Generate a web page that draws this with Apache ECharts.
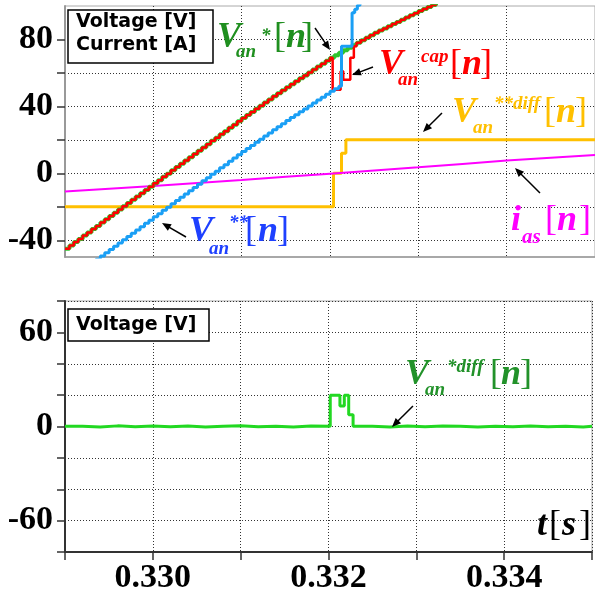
<!DOCTYPE html>
<html><head><meta charset="utf-8">
<script src="https://cdn.jsdelivr.net/npm/echarts@6/dist/echarts.min.js"></script>
<style>html,body{margin:0;padding:0;background:#fff}#c{width:595px;height:596px}</style>
</head><body><div id="c"></div>
<script>
// ---- data ----
const sampleStart = 0.329;      // s, first sample of the staircase signals
const samplePeriod = 0.00005;   // s, sample spacing
// V_an*[n] (reference voltage), samples from 0.329 s
const vanStar = [
  -45.0, -43.1, -41.1, -39.2, -37.2, -35.3, -33.3, -31.4, -29.4, -27.5,
  -25.5, -23.6, -21.6, -19.7, -17.7, -15.8, -13.8, -11.9, -9.9, -8.0,
  -6.0, -4.1, -2.1, -0.2, 1.8, 3.8, 5.7, 7.7, 9.6, 11.6,
  13.5, 15.5, 17.4, 19.4, 21.3, 23.3, 25.2, 27.2, 29.1, 31.1,
  33.0, 34.9, 36.7, 38.6, 40.4, 42.3, 44.1, 46.0, 47.8, 49.7,
  51.5, 53.3, 55.0, 56.8, 58.5, 60.3, 62.0, 63.8, 65.5, 67.3,
  69.0, 70.5, 72.0, 73.5, 75.0, 76.5, 78.0, 79.5, 81.0, 82.5,
  84.0, 85.3, 86.6, 87.9, 89.2, 90.5, 91.8, 93.1, 94.4, 95.7,
  97.0, 98.2, 99.4, 100.6, 101.8
];
// V_an^cap[n]: follows V_an* except during the event window
const vanCapEventT = [0.33203, 0.33212, 0.33215, 0.33223, 0.33227];
const vanCapEventV = [50, 61, 56, 69, 76];
const vanCapEventFrom = 0.33201, vanCapEventTo = 0.33229;
// V_an**[n], samples from 0.329 s, then event steps
const vanStar2 = [
  -65.0, -63.1, -61.1, -59.2, -57.2, -55.3, -53.3, -51.4, -49.4, -47.5,
  -45.5, -43.6, -41.6, -39.7, -37.7, -35.8, -33.8, -31.9, -29.9, -28.0,
  -26.0, -24.1, -22.1, -20.2, -18.2, -16.2, -14.3, -12.3, -10.4, -8.4,
  -6.5, -4.5, -2.6, -0.6, 1.3, 3.3, 5.2, 7.2, 9.1, 11.1,
  13.0, 14.9, 16.7, 18.6, 20.4, 22.3, 24.1, 26.0, 27.8, 29.7,
  31.5, 33.3, 35.0, 36.8, 38.5, 40.3, 42.0, 43.8, 45.5, 47.3,
  49.0, 50.5, 52.0
];
const vanStar2TailT = [0.33213, 0.33225, 0.33228, 0.33231, 0.33234];
const vanStar2TailV = [76, 96, 98, 100.5, 103];
// V_an**diff[n]
const vanDiff2T = [0.329, 0.33204, 0.33213, 0.33218, 0.335];
const vanDiff2V = [-20, 0, 12, 20, 20];
// i_as[n]
const iasT = [0.329, 0.3295, 0.330, 0.3305, 0.331, 0.3315, 0.332, 0.3325, 0.333, 0.3335, 0.334, 0.3345, 0.335];
const iasV = [-10.8, -9.2, -7.6, -5.8, -4.0, -2.1, -0.2, 1.7, 3.6, 5.6, 7.6, 9.3, 11.0];
// V_an*diff[n] (bottom panel)
const vanDiff1T = [0.32900, 0.32920, 0.32940, 0.32960, 0.32980, 0.33000, 0.33020, 0.33040, 0.33060, 0.33080,
  0.33100, 0.33120, 0.33140, 0.33160, 0.33180, 0.33202, 0.33213, 0.33218, 0.33223, 0.33228,
  0.33250, 0.33270, 0.33290, 0.33310, 0.33330, 0.33350, 0.33370, 0.33390, 0.33410, 0.33430,
  0.33450, 0.33470, 0.33490, 0.33500];
const vanDiff1V = [0.2, -0.3, 0.4, -0.2, 0.3, -0.1, 0.3, -0.3, 0.2, 0.4,
  -0.2, 0.2, -0.3, 0.3, 0.1, 20, 13, 20, 7.5, 0.2,
  -0.3, 0.3, -0.2, 0.3, 0.1, -0.3, 0.2, -0.2, 0.3, -0.1,
  0.2, -0.3, 0.2, 0.2];
// axes
const xMin = 0.329, xMax = 0.335, xStep = 0.001;
const topYMin = -50, topYMax = 100;
const topYTicks = [-40, -20, 0, 20, 40, 60, 80];
const topYLabels = [-40, 0, 40, 80];
const botYMin = -80, botYMax = 80, botYStep = 20;

// ---- build series data ----
const sampled = (arr) => arr.map((v, k) => [sampleStart + k * samplePeriod, v]);
const zip = (t, v) => t.map((x, i) => [x, v[i]]);
const greenData = sampled(vanStar);
const redData = greenData.filter(p => p[0] < vanCapEventFrom)
  .concat(zip(vanCapEventT, vanCapEventV))
  .concat(greenData.filter(p => p[0] > vanCapEventTo));
const blueData = sampled(vanStar2).concat(zip(vanStar2TailT, vanStar2TailV));

const FONT_AX = 'Liberation Serif';
const AX_SIZE = 34;
const gridLine = { show: true, lineStyle: { color: '#333', width: 1, type: [1, 2] } };

function line(name, data, color, width, xi, yi, step) {
  return { name, type: 'line', data, xAxisIndex: xi, yAxisIndex: yi, step: step || false,
    showSymbol: false, symbol: 'none', silent: true, animation: false,
    lineStyle: { color, width }, itemStyle: { color } };
}

// ---- graphic helpers ----
function T(s, x, base, size, color, bold, italic, family) {
  family = family || 'Liberation Serif';
  const k = family === 'DejaVu Sans' ? 0.346 : 0.3375;
  const font = (italic ? 'italic ' : '') + (bold ? 'bold ' : '') + size + 'px "' + family + '"';
  return { type: 'text', x: x, y: base - k * size, z: 101, silent: true,
    style: { text: s, fill: color, font: font, align: 'left', verticalAlign: 'middle',
             textAlign: 'left', textVerticalAlign: 'middle' } };
}
function arrow(x1, y1, x2, y2) {
  const dx = x2 - x1, dy = y2 - y1, L = Math.hypot(dx, dy), ux = dx / L, uy = dy / L;
  const hl = 9, hw = 3.8, bx = x2 - ux * hl, by = y2 - uy * hl;
  return [
    { type: 'line', z: 101, silent: true, shape: { x1, y1, x2: bx + ux, y2: by + uy }, style: { stroke: '#000', lineWidth: 1.5 } },
    { type: 'polygon', z: 101, silent: true, shape: { points: [[x2, y2], [bx - uy * hw, by + ux * hw], [bx + uy * hw, by - ux * hw]] }, style: { fill: '#000' } }
  ];
}
function label(parts, color) {
  return parts.map(p => p[4] === 'b' ? T(p[0], p[1], p[2], p[3], color, false, false)
                                    : T(p[0], p[1], p[2], p[3], color, true, true));
}

const G = '#1f8f1f', R = '#ff0000', B = '#1e40ff', Y = '#ffc000', M = '#ff00ff';
const graphics = [
  { type: 'rect', z: 100, silent: true, shape: { x: 68, y: 10, width: 145, height: 53 }, style: { fill: '#fff', stroke: '#000', lineWidth: 1.5 } },
  T('Voltage [V]', 76, 29, 19, '#000', true, false, 'DejaVu Sans'),
  T('Current [A]', 76, 52, 19, '#000', true, false, 'DejaVu Sans'),
  { type: 'rect', z: 100, silent: true, shape: { x: 68, y: 309, width: 141, height: 32 }, style: { fill: '#fff', stroke: '#000', lineWidth: 1.5 } },
  T('Voltage [V]', 76, 332, 19, '#000', true, false, 'DejaVu Sans'),
  ...label([['V', 217, 50, 36, 'm'], ['an', 236, 59, 19, 'm'], ['*', 261, 43, 19, 'm'], ['[', 274, 50, 36, 'b'], ['n', 286, 50, 36, 'm'], [']', 301, 50, 36, 'b']], G),
  ...label([['V', 379, 77, 36, 'm'], ['an', 398, 87, 19, 'm'], ['cap', 421, 64, 19, 'm'], ['[', 450, 77, 36, 'b'], ['n', 462, 77, 36, 'm'], [']', 480, 77, 36, 'b']], R),
  ...label([['V', 452, 125, 36, 'm'], ['an', 473, 135, 19, 'm'], ['**diff', 494, 111, 19, 'm'], ['[', 544, 125, 36, 'b'], ['n', 556, 125, 36, 'm'], [']', 575, 125, 36, 'b']], Y),
  ...label([['i', 511, 233, 36, 'm'], ['as', 522, 245, 21, 'm'], ['[', 545, 233, 36, 'b'], ['n', 557, 233, 36, 'm'], [']', 579, 233, 36, 'b']], M),
  ...label([['V', 189, 244, 36, 'm'], ['an', 209, 256, 19, 'm'], ['**', 229, 230, 19, 'm'], ['[', 245, 244, 36, 'b'], ['n', 258, 244, 36, 'm'], [']', 277, 244, 36, 'b']], B),
  ...label([['V', 405, 387, 36, 'm'], ['an', 425, 397, 19, 'm'], ['*diff', 447, 374, 19, 'm'], ['[', 490, 387, 36, 'b'], ['n', 501, 387, 36, 'm'], [']', 520, 387, 36, 'b']], '#22922a'),
  ...label([['t', 537, 538, 36, 'm'], ['[', 549, 538, 36, 'b'], ['s', 562, 538, 36, 'm'], [']', 579, 538, 36, 'b']], '#000'),
  ...arrow(315, 28, 330, 50),
  ...arrow(373, 67, 352, 75),
  ...arrow(442, 113, 423, 132),
  ...arrow(540, 193, 515, 168),
  ...arrow(186, 237, 162, 223),
  ...arrow(413, 406, 392, 427)
];

const chart = echarts.init(document.getElementById('c'), null, { renderer: 'canvas' });
chart.setOption({
  animation: false,
  backgroundColor: '#fff',
  grid: [
    { left: 65, top: 6, width: 530, height: 251, show: true, borderColor: '#aaa', borderWidth: 1 },
    { left: 65, top: 301, width: 530, height: 251, show: true, borderColor: '#aaa', borderWidth: 1 }
  ],
  xAxis: [
    { type: 'value', gridIndex: 0, min: xMin, max: xMax, interval: xStep,
      axisLine: { show: true, onZero: false, lineStyle: { color: '#999', width: 1.5 } },
      axisTick: { show: false }, axisLabel: { show: false }, splitLine: gridLine },
    { type: 'value', gridIndex: 1, min: xMin, max: xMax, interval: xStep,
      axisLine: { show: true, onZero: false, lineStyle: { color: '#333', width: 2 } },
      axisTick: { show: true, length: 8, lineStyle: { color: '#333', width: 1.5 } },
      axisLabel: { show: true, margin: 9, color: '#000', fontFamily: FONT_AX, fontWeight: 'bold', fontSize: AX_SIZE,
        formatter: v => { const m = Math.round(v * 1e6); return m % 2000 === 0 ? (m / 1e6).toFixed(3) : ''; } },
      splitLine: gridLine }
  ],
  yAxis: [
    { type: 'value', gridIndex: 0, min: topYMin, max: topYMax,
      axisLine: { show: true, onZero: false, lineStyle: { color: '#999', width: 2 } },
      axisTick: { show: true, length: 8, customValues: topYTicks, lineStyle: { color: '#333', width: 1.5 } },
      axisLabel: { show: true, margin: 12, customValues: topYLabels, color: '#000', fontFamily: FONT_AX, fontWeight: 'bold', fontSize: AX_SIZE },
      splitLine: gridLine },
    { type: 'value', gridIndex: 1, min: botYMin, max: botYMax, interval: botYStep,
      axisLine: { show: true, onZero: false, lineStyle: { color: '#333', width: 2 } },
      axisTick: { show: true, length: 8, lineStyle: { color: '#333', width: 1.5 } },
      axisLabel: { show: true, margin: 12, color: '#000', fontFamily: FONT_AX, fontWeight: 'bold', fontSize: AX_SIZE,
        formatter: v => { const r = Math.round(v); return r % 60 === 0 ? String(r) : ''; } },
      splitLine: gridLine }
  ],
  series: [
    line('V_an**diff', zip(vanDiff2T, vanDiff2V), Y, 3, 0, 0, 'end'),
    line('i_as', zip(iasT, iasV), M, 2, 0, 0, false),
    line('V_an*', greenData, '#2fc42f', 4, 0, 0, 'end'),
    line('V_an^cap', redData, R, 2.5, 0, 0, 'end'),
    line('V_an**', blueData, '#1a9ff5', 3, 0, 0, 'end'),
    line('V_an*diff', zip(vanDiff1T, vanDiff1V), '#22d822', 3, 1, 1, 'end')
  ],
  graphic: graphics
});
</script></body></html>
